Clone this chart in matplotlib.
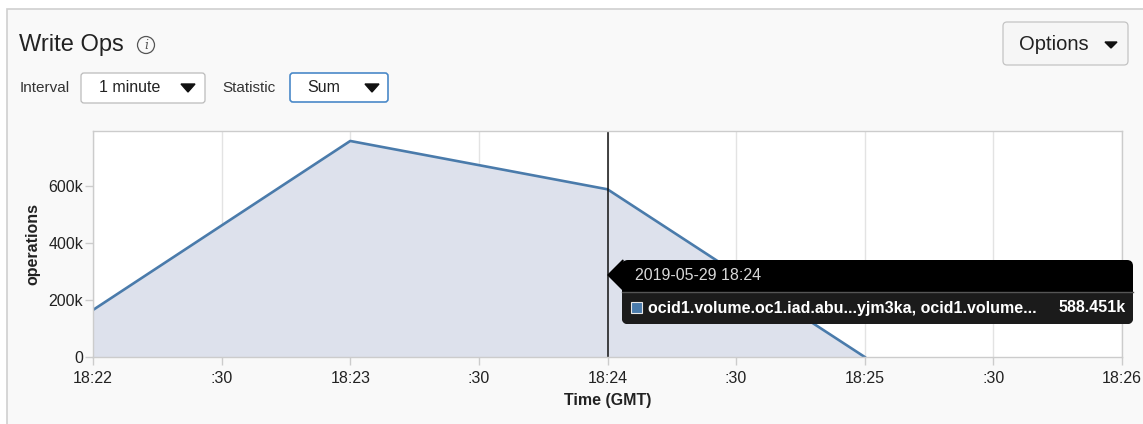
import matplotlib.pyplot as plt
from matplotlib.patches import FancyBboxPatch, Rectangle, Circle, Polygon

plt.rcParams['font.family'] = ['Liberation Sans', 'DejaVu Sans']

# seconds after 18:22
times = [0, 60, 120, 180]
ops = [165000, 758000, 588451, 0]
tick_secs = [0, 30, 60, 90, 120, 150, 180, 210, 240]
tick_labels = ['18:22', ':30', '18:23', ':30', '18:24', ':30', '18:25', ':30', '18:26']
y_ticks = [0, 200000, 400000, 600000]
y_labels = ['0', '200k', '400k', '600k']
hover_sec = 120
hover_date = '2019-05-29 18:24'
hover_series = 'ocid1.volume.oc1.iad.abu...yjm3ka, ocid1.volume...'
hover_value = '588.451k'

W, H = 1143, 424
fig = plt.figure(figsize=(W / 100, H / 100), dpi=100)
fig.patch.set_facecolor('white')

# background layer in pixel coords
bg = fig.add_axes([0, 0, 1, 1], zorder=0)
bg.set_xlim(0, W)
bg.set_ylim(H, 0)
bg.axis('off')
bg.add_patch(Rectangle((7, 9), W, H, facecolor='#f9f9f9', edgecolor='#cfcfcf', lw=1.2))

bg.text(19, 45, 'Write Ops', fontsize=17, color='#222222', va='center', ha='left')
bg.add_patch(Circle((146, 45), 8.5, facecolor='none', edgecolor='#555555', lw=0.9))
bg.text(146, 45.5, 'i', fontsize=9, style='italic', family='DejaVu Serif', color='#555555',
        ha='center', va='center')

bg.text(20, 88, 'Interval', fontsize=11, color='#333333', va='center')
bg.add_patch(FancyBboxPatch((81, 73), 124, 30, boxstyle='round,pad=0,rounding_size=3',
                            facecolor='white', edgecolor='#bbbbbb', lw=0.9))
bg.text(99, 88, '1 minute', fontsize=11.5, color='#222222', va='center')
bg.add_patch(Polygon([(181, 84), (195, 84), (188, 92)], color='#111111'))

bg.text(222, 88, 'Statistic', fontsize=11, color='#333333', va='center')
bg.add_patch(FancyBboxPatch((290, 73), 98, 29, boxstyle='round,pad=0,rounding_size=3',
                            facecolor='white', edgecolor='#4a89c8', lw=1.2))
bg.text(307, 88, 'Sum', fontsize=11.5, color='#222222', va='center')
bg.add_patch(Polygon([(365, 84), (379, 84), (372, 92)], color='#111111'))

bg.add_patch(FancyBboxPatch((1003, 22), 125, 43, boxstyle='round,pad=0,rounding_size=4',
                            facecolor='#f6f6f6', edgecolor='#c4c4c4', lw=0.9))
bg.text(1019, 44, 'Options', fontsize=14.5, color='#222222', va='center')
bg.add_patch(Polygon([(1105, 42), (1117, 42), (1111, 48)], color='#111111'))

# chart
ax = fig.add_axes([93 / W, 1 - 357 / H, (1122 - 93) / W, (357 - 131) / H], zorder=1)
ax.set_facecolor('white')
ax.fill_between(times, ops, 0, color='#dde1ec', lw=0)
ax.plot(times, ops, color='#4a7bab', lw=1.9, solid_joinstyle='round')
ax.axvline(hover_sec, color='#111111', lw=1.1)
ax.set_xlim(0, 240)
ax.set_ylim(0, 793000)
ax.set_xticks(tick_secs)
ax.set_xticklabels(tick_labels)
ax.set_yticks(y_ticks)
ax.set_yticklabels(y_labels)
ax.grid(axis='x', color='#e3e3e3', lw=1)
ax.set_axisbelow(True)
for s in ax.spines.values():
    s.set_color('#cccccc')
    s.set_linewidth(1)
ax.tick_params(colors='#cccccc', labelcolor='#222222', labelsize=11.5, length=6, width=1)
ax.tick_params(axis='x', pad=4)
ax.tick_params(axis='y', pad=1)
ax.set_xlabel('Time (GMT)', fontsize=11.5, fontweight='bold', color='#222222', labelpad=5)
ax.set_ylabel('operations', fontsize=11.5, fontweight='bold', color='#222222', labelpad=6)

# tooltip layer
fg = fig.add_axes([0, 0, 1, 1], zorder=3)
fg.set_xlim(0, W)
fg.set_ylim(H, 0)
fg.axis('off')
fg.patch.set_alpha(0)
fg.add_patch(FancyBboxPatch((622, 260), 511, 64, boxstyle='round,pad=0,rounding_size=6',
                            facecolor='#000000', edgecolor='none'))
fg.add_patch(Polygon([(608, 275), (623, 260), (623, 290)], color='#000000'))
fg.add_patch(FancyBboxPatch((622, 292), 511, 32, boxstyle='round,pad=0,rounding_size=6',
                            facecolor='#1b1b1b', edgecolor='none'))
fg.add_patch(Rectangle((622, 292), 511, 10, facecolor='#1b1b1b', edgecolor='none'))
fg.plot([622, 1133], [291.5, 291.5], color='#555555', lw=1)
fg.text(635, 275, hover_date, fontsize=11.5, color='#d8d8d8', va='center')
fg.add_patch(Rectangle((631, 302), 11, 11, facecolor='#4a7bab', edgecolor='#e8e8e8', lw=0.8))
fg.text(648, 308, hover_series, fontsize=11.5, fontweight='bold', color='white', va='center')
fg.text(1126, 308, hover_value, fontsize=11.5, fontweight='bold', color='white',
        va='center', ha='right')

fig.savefig('out.png', dpi=100)
